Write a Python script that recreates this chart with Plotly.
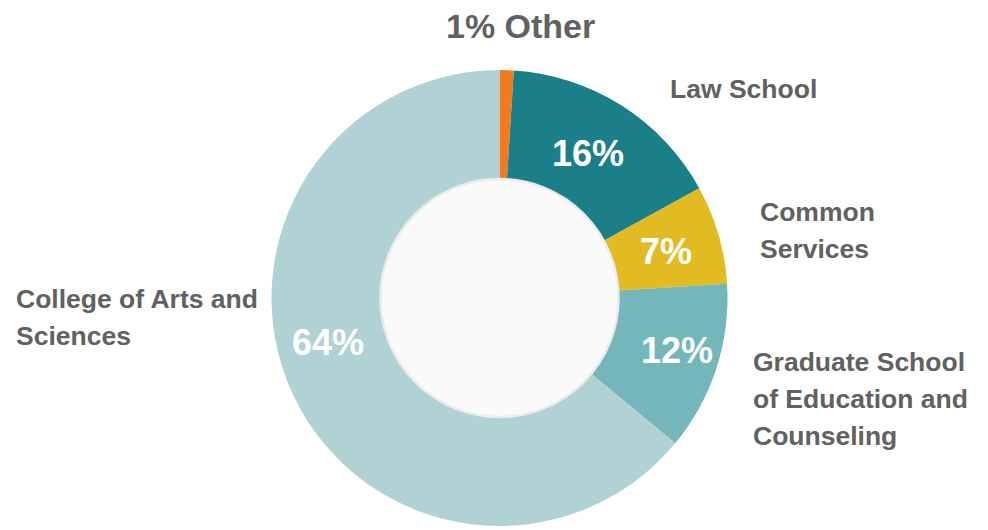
import plotly.graph_objects as go

W, H = 988, 530

labels = ["Other", "Law School", "Common Services",
          "Graduate School of Education and Counseling",
          "College of Arts and Sciences"]
values = [1, 16, 7, 12, 64]
colors = ["#f47a20", "#1b7f8a", "#e2bb23", "#74b6ba", "#b0d2d5"]

# Outer label text lines (as shown in the chart)
label_lines = [
    ["1% Other"],
    ["Law School"],
    ["Common", "Services"],
    ["Graduate School", "of Education and", "Counseling"],
    ["College of Arts and", "Sciences"],
]
pct_text = [f"{v}%" for v in values]

# layout helpers (pixel positions of label anchors)
cx, cy, R, r_in = 499.5, 298, 228, 119
label_pos = [  # (x, y_first_line_center, xanchor)
    (520, 26, "center"),
    (668, 89, "left"),
    (758, 212, "left"),
    (751, 362, "left"),
    (14, 299, "left"),
]
line_gap = 37
pct_pos = [None, (588, 154), (666, 251), (677, 350), (328, 342)]

def px(x):
    return x / W

def py(y):
    return 1 - y / H

fig = go.Figure()
fig.add_trace(go.Pie(
    labels=labels, values=values, sort=False, direction="clockwise",
    rotation=0, hole=r_in / R,
    marker=dict(colors=colors, line=dict(width=0)),
    textinfo="none", hoverinfo="label+percent",
    domain=dict(x=[px(cx - R), px(cx + R)], y=[py(cy + R), py(cy - R)]),
    showlegend=False,
))
# hole fill with soft border
fig.add_trace(go.Pie(
    labels=[""], values=[1], sort=False,
    marker=dict(colors=["#fafafa"], line=dict(color="#ececec", width=2.5)),
    textinfo="none", hoverinfo="skip",
    domain=dict(x=[px(cx - r_in), px(cx + r_in)], y=[py(cy + r_in), py(cy - r_in)]),
    showlegend=False,
))

FONT = "Liberation Sans, Arial, sans-serif"
annotations = []
for i, lines in enumerate(label_lines):
    x, y0, xa = label_pos[i]
    fs = 34 if i == 0 else 26.5
    for j, line in enumerate(lines):
        annotations.append(dict(
            x=px(x), y=py(y0 + j * line_gap), xref="paper", yref="paper",
            text=f"<b>{line}</b>", showarrow=False, xanchor=xa, yanchor="middle",
            font=dict(family=FONT, size=fs, color="#616161"),
        ))
for i, pos in enumerate(pct_pos):
    if pos is None:
        continue
    annotations.append(dict(
        x=px(pos[0]), y=py(pos[1]), xref="paper", yref="paper",
        text=f"<b>{pct_text[i]}</b>", showarrow=False, xanchor="center", yanchor="middle",
        font=dict(family=FONT, size=36, color="#ffffff"),
    ))

fig.update_layout(
    width=W, height=H, margin=dict(l=0, r=0, t=0, b=0),
    paper_bgcolor="#ffffff", plot_bgcolor="#ffffff",
    annotations=annotations,
)
fig.write_html("out.html", config={"displayModeBar": False},
               post_script="document.body.style.margin='0';document.body.style.overflow='hidden';")
